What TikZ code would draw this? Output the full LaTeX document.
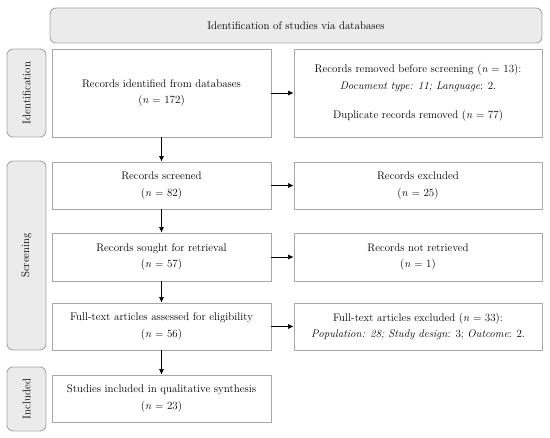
\documentclass[tikz,border=0pt]{standalone}
\usepackage{fontspec}
\usetikzlibrary{arrows.meta}
\definecolor{boxline}{HTML}{A8A8A8}
\definecolor{labelfill}{HTML}{EBEBEB}
\tikzset{
  box/.style={draw=boxline, line width=0.9pt, fill=white, align=center, inner sep=2pt, font=\fontsize{11}{16.5}\selectfont},
  sidelabel/.style={draw=boxline, line width=0.9pt, fill=labelfill, rounded corners=6pt, font=\fontsize{11}{13}\selectfont},
  labeltext/.style={rotate=90, font=\fontsize{11}{13}\selectfont},
  flow/.style={-{Latex[length=5.5pt,width=5pt]}, line width=0.6pt, black},
}
\begin{document}
\begin{tikzpicture}[x=1pt,y=-1pt]
\useasboundingbox (0,0) rectangle (550,438);
\node[sidelabel, minimum width=492pt, minimum height=35pt] (banner) at (296,25.5) {Identification of studies via databases};
\node[sidelabel, minimum width=39pt, minimum height=88pt] (lid) at (26.5,93) {};
\node[labeltext] (lidt) at (lid.center) {Identification};
\node[sidelabel, minimum width=39pt, minimum height=189pt] (lsc) at (26.5,255.5) {};
\node[labeltext] (lsct) at (lsc.center) {Screening};
\node[sidelabel, minimum width=39pt, minimum height=64pt] (lin) at (26.5,399) {};
\node[labeltext] (lint) at (lin.center) {Included};

\node[box, minimum width=219pt, minimum height=88pt] (b1) at (161.5,93) {Records identified from databases\\(\textit{n} = 172)};
\node[box, minimum width=248pt, minimum height=88pt] (r1) at (418,93) {Records removed before screening (\textit{n} = 13):\\\textit{Document type: 11; Language}: 2.\\[13pt]Duplicate records removed (\textit{n} = 77)};
\node[box, minimum width=219pt, minimum height=47pt] (b2) at (161.5,185.5) {Records screened\\(\textit{n} = 82)};
\node[box, minimum width=248pt, minimum height=47pt] (r2) at (418,185.5) {Records excluded\\(\textit{n} = 25)};
\node[box, minimum width=219pt, minimum height=48pt] (b3) at (161.5,257) {Records sought for retrieval\\(\textit{n} = 57)};
\node[box, minimum width=248pt, minimum height=48pt] (r3) at (418,257) {Records not retrieved\\(\textit{n} = 1)};
\node[box, minimum width=219pt, minimum height=47pt] (b4) at (161.5,326.5) {Full-text articles assessed for eligibility\\(\textit{n} = 56)};
\node[box, minimum width=248pt, minimum height=47pt] (r4) at (418,326.5) {Full-text articles excluded (\textit{n} = 33):\\\textit{Population: 28; Study design}: 3; \textit{Outcome}: 2.};
\node[box, minimum width=219pt, minimum height=47pt] (b5) at (161.5,398.5) {Studies included in qualitative synthesis\\(\textit{n} = 23)};

\draw[flow] (b1) -- (b2);
\draw[flow] (b2) -- (b3);
\draw[flow] (b3) -- (b4);
\draw[flow] (b4) -- (b5);
\draw[flow] (b1) -- (r1);
\draw[flow] (b2) -- (r2);
\draw[flow] (b3) -- (r3);
\draw[flow] (b4) -- (r4);
\end{tikzpicture}
\end{document}
